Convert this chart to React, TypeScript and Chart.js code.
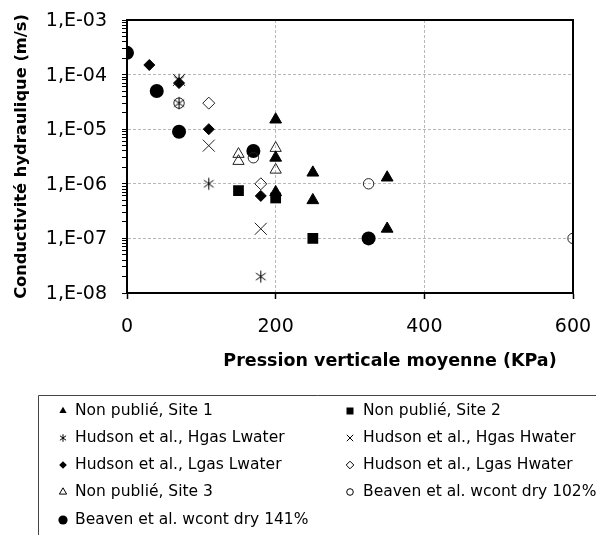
import React, { useEffect, useRef } from 'react';
import { Chart, registerables } from 'chart.js';

Chart.register(...registerables);

// ---------- data ----------
const xTickValues = [0, 200, 400, 600];
const yDecadeExponents = [-8, -7, -6, -5, -4, -3];

const seriesLabels = [
  'Non publié, Site 1',
  'Non publié, Site 2',
  'Hudson et al., Hgas Lwater',
  'Hudson et al., Hgas Hwater',
  'Hudson et al., Lgas Lwater',
  'Hudson et al., Lgas Hwater',
  'Non publié, Site 3',
  'Beaven et al. wcont dry 102%',
  'Beaven et al. wcont dry 141%',
];

const site1X = [200, 200, 200, 250, 250, 350, 350];
const site1Y = [1.5e-5, 3e-6, 7e-7, 1.6e-6, 5e-7, 1.3e-6, 1.5e-7];

const site2X = [150, 200, 250];
const site2Y = [7.5e-7, 5.5e-7, 1e-7];

const hgasLwaterX = [70, 70, 110, 180];
const hgasLwaterY = [8e-5, 3e-5, 1e-6, 2e-8];

const hgasHwaterX = [70, 110, 180];
const hgasHwaterY = [8e-5, 5e-6, 1.5e-7];

const lgasLwaterX = [30, 70, 110, 180];
const lgasLwaterY = [1.5e-4, 7e-5, 1e-5, 6e-7];

const lgasHwaterX = [110, 180];
const lgasHwaterY = [3e-5, 1e-6];

const site3X = [150, 150, 200, 200];
const site3Y = [3.5e-6, 2.6e-6, 4.5e-6, 1.8e-6];

const beaven102X = [70, 170, 325, 600];
const beaven102Y = [3e-5, 3e-6, 1e-6, 1e-7];

const beaven141X = [0, 40, 70, 170, 325];
const beaven141Y = [2.5e-4, 5e-5, 9e-6, 4e-6, 1e-7];

type Kind = 'triFill' | 'rect' | 'asterisk' | 'x' | 'diaFill' | 'diaOpen' | 'triOpen' | 'circOpen' | 'circFill';
const seriesKinds: Kind[] = ['triFill', 'rect', 'asterisk', 'x', 'diaFill', 'diaOpen', 'triOpen', 'circOpen', 'circFill'];

const FONT = '"DejaVu Sans", "Liberation Sans", sans-serif';

function pts(xs: number[], ys: number[]) {
  return xs.map((x, i) => ({ x, y: ys[i] }));
}

function formatDecade(e: number) {
  const abs = Math.abs(e);
  return `1,E${e < 0 ? '-' : '+'}${abs < 10 ? '0' : ''}${abs}`;
}

function drawMarker(ctx: CanvasRenderingContext2D, kind: Kind, x: number, y: number, r: number) {
  ctx.save();
  ctx.fillStyle = '#000';
  ctx.strokeStyle = '#000';
  ctx.lineWidth = 1;
  ctx.beginPath();
  const s60 = Math.sin(Math.PI / 3);
  switch (kind) {
    case 'triFill':
    case 'triOpen':
      ctx.moveTo(x, y - r);
      ctx.lineTo(x + r * s60, y + r / 2);
      ctx.lineTo(x - r * s60, y + r / 2);
      ctx.closePath();
      if (kind === 'triFill') ctx.fill(); else ctx.stroke();
      break;
    case 'rect':
      ctx.rect(x - r, y - r, 2 * r, 2 * r);
      ctx.fill();
      break;
    case 'diaFill':
    case 'diaOpen':
      ctx.moveTo(x, y - r);
      ctx.lineTo(x + r, y);
      ctx.lineTo(x, y + r);
      ctx.lineTo(x - r, y);
      ctx.closePath();
      if (kind === 'diaFill') ctx.fill(); else ctx.stroke();
      break;
    case 'circFill':
    case 'circOpen':
      ctx.arc(x, y, r, 0, Math.PI * 2);
      if (kind === 'circFill') ctx.fill(); else ctx.stroke();
      break;
    case 'x':
      ctx.moveTo(x - r, y - r);
      ctx.lineTo(x + r, y + r);
      ctx.moveTo(x + r, y - r);
      ctx.lineTo(x - r, y + r);
      ctx.stroke();
      break;
    case 'asterisk': {
      ctx.moveTo(x, y - r);
      ctx.lineTo(x, y + r);
      const a = Math.PI / 5;
      ctx.moveTo(x - r * Math.cos(a), y - r * Math.sin(a));
      ctx.lineTo(x + r * Math.cos(a), y + r * Math.sin(a));
      ctx.moveTo(x + r * Math.cos(a), y - r * Math.sin(a));
      ctx.lineTo(x - r * Math.cos(a), y + r * Math.sin(a));
      ctx.stroke();
      break;
    }
  }
  ctx.restore();
}

function makeAsteriskImage(r: number) {
  const c = document.createElement('canvas');
  const size = Math.ceil(2 * r + 3);
  c.width = size;
  c.height = size;
  const ctx = c.getContext('2d')!;
  drawMarker(ctx, 'asterisk', size / 2, size / 2, r);
  return c;
}

const isDecade = (v: number) => {
  const l = Math.log10(v);
  return Math.abs(l - Math.round(l)) < 1e-6;
};

export default function App() {
  const ref = useRef<HTMLCanvasElement | null>(null);

  useEffect(() => {
    document.body.style.margin = '0';
    const canvas = ref.current;
    if (!canvas) return;

    const asterisk = makeAsteriskImage(6);

    const black = '#000';
    const datasets: any[] = [
      { label: seriesLabels[0], data: pts(site1X, site1Y), pointStyle: 'triangle', pointRadius: 6.8, backgroundColor: black, borderColor: black, borderWidth: 1 },
      { label: seriesLabels[1], data: pts(site2X, site2Y), pointStyle: 'rect', pointRadius: 7.6, backgroundColor: black, borderColor: black, borderWidth: 0 },
      { label: seriesLabels[2], data: pts(hgasLwaterX, hgasLwaterY), pointStyle: asterisk, pointRadius: 6, backgroundColor: black, borderColor: black },
      { label: seriesLabels[3], data: pts(hgasHwaterX, hgasHwaterY), pointStyle: 'crossRot', pointRadius: 8.5, backgroundColor: black, borderColor: '#222', borderWidth: 1 },
      { label: seriesLabels[4], data: pts(lgasLwaterX, lgasLwaterY), pointStyle: 'rectRot', pointRadius: 5.5, backgroundColor: black, borderColor: black, borderWidth: 1 },
      { label: seriesLabels[5], data: pts(lgasHwaterX, lgasHwaterY), pointStyle: 'rectRot', pointRadius: 6, backgroundColor: 'rgba(0,0,0,0)', borderColor: '#222', borderWidth: 1 },
      { label: seriesLabels[6], data: pts(site3X, site3Y), pointStyle: 'triangle', pointRadius: 6.5, backgroundColor: 'rgba(0,0,0,0)', borderColor: '#222', borderWidth: 1 },
      { label: seriesLabels[7], data: pts(beaven102X, beaven102Y), pointStyle: 'circle', pointRadius: 5.2, backgroundColor: 'rgba(0,0,0,0)', borderColor: '#222', borderWidth: 1 },
      { label: seriesLabels[8], data: pts(beaven141X, beaven141Y), pointStyle: 'circle', pointRadius: 7, backgroundColor: black, borderColor: black, borderWidth: 0 },
    ];

    const framePlugin = {
      id: 'frameAndLegend',
      afterDraw(chart: any) {
        const { ctx, chartArea: a } = chart;
        const yScale = chart.scales.y;
        ctx.save();
        // top + right frame
        ctx.strokeStyle = '#000';
        ctx.lineWidth = 2;
        ctx.beginPath();
        ctx.moveTo(a.left, a.top);
        ctx.lineTo(a.right, a.top);
        ctx.lineTo(a.right, a.bottom);
        ctx.stroke();

        // y tick labels, placed through the y scale
        ctx.fillStyle = '#000';
        ctx.font = `19px ${FONT}`;
        ctx.textAlign = 'right';
        ctx.textBaseline = 'middle';
        yDecadeExponents.forEach((e) => {
          ctx.fillText(formatDecade(e), a.left - 20, yScale.getPixelForValue(Math.pow(10, e)) + 1);
        });

        // axis titles
        ctx.textAlign = 'center';
        ctx.font = `bold 17.5px ${FONT}`;
        ctx.fillText('Pression verticale moyenne (KPa)', 390, 361);
        ctx.save();
        ctx.translate(22, (a.top + a.bottom) / 2);
        ctx.rotate(-Math.PI / 2);
        ctx.font = `bold 16.3px ${FONT}`;
        ctx.fillText('Conductivité hydraulique (m/s)', 0, 0);
        ctx.restore();

        // legend box
        ctx.strokeStyle = '#444';
        ctx.lineWidth = 1;
        ctx.beginPath();
        ctx.moveTo(38.5, 540);
        ctx.lineTo(38.5, 395.5);
        ctx.lineTo(600, 395.5);
        ctx.stroke();

        const rowY = [410, 437, 464, 491, 519];
        const colMarkerX = [63, 350];
        const colTextX = [75, 363];
        const legendR: Record<Kind, number> = {
          triFill: 4.2, rect: 3.5, asterisk: 3.8, x: 3.2, diaFill: 3.8, diaOpen: 3.8, triOpen: 4.2, circOpen: 3.3, circFill: 4.6,
        };
        ctx.font = `15.5px ${FONT}`;
        ctx.textAlign = 'left';
        ctx.textBaseline = 'middle';
        seriesLabels.forEach((lab, i) => {
          const row = Math.floor(i / 2);
          const col = i % 2;
          const y = rowY[row];
          drawMarker(ctx, seriesKinds[i], colMarkerX[col], y + 1, legendR[seriesKinds[i]]);
          ctx.fillStyle = '#000';
          ctx.fillText(lab, colTextX[col], y + 1);
        });
        ctx.restore();
      },
    };

    const chart = new Chart(canvas, {
      type: 'scatter',
      data: { datasets },
      plugins: [framePlugin],
      options: {
        animation: false,
        responsive: false,
        events: [],
        layout: { padding: { top: 20, right: 23, left: 0, bottom: 0 } },
        plugins: { legend: { display: false }, tooltip: { enabled: false }, title: { display: false } },
        scales: {
          x: {
            type: 'linear',
            min: 0,
            max: 600,
            afterBuildTicks: (scale: any) => {
              scale.ticks = xTickValues.map((v) => ({ value: v }));
            },
            afterFit: (scale: any) => {
              scale.height = 242;
              scale.paddingLeft = 0;
              scale.paddingRight = 0;
            },
            ticks: {
              color: '#000',
              font: { family: FONT, size: 19 },
              padding: 17,
              maxRotation: 0,
              autoSkip: false,
            },
            grid: {
              color: (c: any) => (c.tick && (c.tick.value === 0 || c.tick.value === 600) ? 'rgba(0,0,0,0)' : '#b8b8b8'),
              lineWidth: 1,
              tickColor: '#000',
              tickLength: 6,
              tickWidth: 1.5,
            },
            border: { display: true, color: '#000', width: 2, dash: [3, 2] },
          },
          y: {
            type: 'logarithmic',
            min: 1e-8,
            max: 1e-3,
            afterBuildTicks: (scale: any) => {
              const t: any[] = [];
              for (let k = 0; k < yDecadeExponents.length; k++) {
                const e = yDecadeExponents[k];
                t.push({ value: Math.pow(10, e), major: true });
                if (k < yDecadeExponents.length - 1) {
                  for (let m = 2; m <= 9; m++) t.push({ value: m * Math.pow(10, e), major: false });
                }
              }
              scale.ticks = t;
            },
            afterFit: (scale: any) => {
              scale.width = 127;
              scale.paddingTop = 0;
              scale.paddingBottom = 0;
            },
            ticks: {
              display: false,
              autoSkip: false,
            },
            grid: {
              color: (c: any) => {
                if (!c.tick) return 'rgba(0,0,0,0)';
                const v = c.tick.value;
                if (!isDecade(v)) return 'rgba(0,0,0,0)';
                const e = Math.round(Math.log10(v));
                if (e === -8 || e === -3) return 'rgba(0,0,0,0)';
                return '#b8b8b8';
              },
              lineWidth: 1,
              tickColor: '#000',
              tickLength: 5,
              tickWidth: 1,
            },
            border: { display: true, color: '#000', width: 2, dash: [3, 2] },
          },
        },
      } as any,
    });

    return () => {
      chart.destroy();
    };
  }, []);

  return (
    <div style={{ position: 'absolute', left: 0, top: 0, width: 596, height: 535, background: '#fff' }}>
      <canvas ref={ref} width={596} height={535} style={{ display: 'block', width: 596, height: 535 }} />
    </div>
  );
}
